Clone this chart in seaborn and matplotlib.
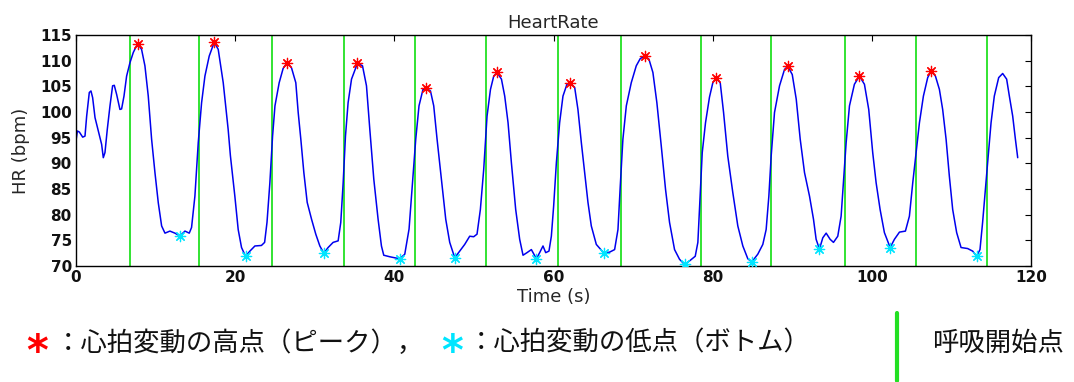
import numpy as np
import pandas as pd
import matplotlib
matplotlib.use("Agg")
import matplotlib.pyplot as plt
import seaborn as sns

# Heart-rate trace (time in s, HR in bpm)
time_s = [
    0.0, 0.17, 0.42, 0.84, 1.13, 1.34, 1.67, 1.88, 2.09, 2.39, 2.8, 3.22, 3.43, 3.64, 3.93,
    4.27, 4.6, 4.81, 5.11, 5.52, 5.73, 6.03, 6.36, 6.78, 7.2, 7.74, 8.24, 8.66, 9.08, 9.5,
    9.92, 10.34, 10.76, 11.18, 11.8, 12.43, 13.06, 13.69, 14.23, 14.52, 14.94, 15.36, 15.78,
    16.2, 16.74, 17.37, 17.87, 18.5, 19.12, 19.4, 19.96, 20.38, 20.8, 21.3, 21.85, 22.48,
    23.3, 23.7, 24.0, 24.36, 24.7, 25.0, 25.53, 26.03, 26.53, 27.08, 27.62, 27.92, 28.25,
    28.63, 29.05, 29.6, 30.13, 30.64, 31.14, 31.68, 32.31, 32.94, 33.27, 33.57, 33.86,
    34.19, 34.62, 35.37, 36.0, 36.5, 36.92, 37.42, 37.96, 38.38, 38.67, 39.43, 40.06,
    40.68, 41.31, 41.85, 42.28, 42.69, 43.1, 43.6, 44.03, 44.54, 44.95, 45.37, 45.92,
    46.46, 46.96, 47.59, 48.22, 48.84, 49.47, 49.97, 50.39, 50.81, 51.23, 51.65, 52.08,
    52.49, 52.9, 53.46, 53.87, 54.29, 54.71, 55.25, 55.75, 56.17, 56.67, 57.22, 57.85,
    58.26, 58.68, 59.02, 59.43, 59.73, 60.02, 60.36, 60.77, 61.19, 61.69, 62.03, 62.66,
    63.07, 63.5, 63.91, 64.33, 64.75, 65.38, 66.34, 67.05, 67.68, 68.1, 68.39, 68.72,
    69.15, 69.77, 70.4, 70.9, 71.45, 71.99, 72.49, 72.99, 73.54, 74.08, 74.58, 75.21,
    75.84, 76.47, 77.1, 77.81, 78.14, 78.43, 78.69, 79.1, 79.6, 80.02, 80.44, 80.95,
    81.37, 81.9, 82.53, 83.16, 83.79, 84.42, 84.92, 85.67, 86.3, 86.72, 87.06, 87.35,
    87.77, 88.4, 89.03, 89.44, 90.0, 90.5, 91.0, 91.54, 92.17, 92.67, 93.0, 93.42, 93.84,
    94.26, 94.76, 95.18, 95.72, 96.14, 96.43, 96.77, 97.19, 97.81, 98.44, 99.07, 99.61,
    100.11, 100.54, 101.04, 101.58, 102.3, 102.84, 103.47, 104.22, 104.72, 105.14,
    105.56, 105.98, 106.48, 107.02, 107.45, 107.99, 108.49, 108.9, 109.33, 109.74,
    110.16, 110.66, 111.21, 112.04, 112.67, 113.17, 113.59, 113.92, 114.26, 114.55,
    114.98, 115.39, 115.94, 116.44, 116.94, 117.28, 117.7, 118.04, 118.33,
]
hr_bpm = [
    94.4, 96.3, 96.1, 95.1, 95.3, 99.2, 103.8, 104.1, 102.8, 98.9, 96.3, 93.7, 91.1, 92.1, 96.6,
    101.2, 105.1, 105.2, 103.4, 100.5, 100.6, 103.1, 107.0, 109.6, 111.6, 113.3, 112.2, 109.0, 103.1, 94.7,
    88.2, 82.3, 77.8, 76.4, 76.8, 76.4, 75.85, 76.8, 76.4, 77.5, 83.6, 94.0, 101.8,
    107.0, 110.9, 113.6, 112.2, 105.7, 96.6, 91.5, 83.6, 77.1, 73.6, 71.9, 72.9, 73.9,
    74.0, 74.6, 78.5, 86.2, 95.3, 101.2, 105.7, 108.5, 109.6, 108.6, 105.7, 99.9, 94.7,
    88.2, 82.4, 79.1, 76.2, 73.9, 72.5, 73.6, 74.6, 74.9, 78.5, 86.2, 95.3,
    101.8, 106.4, 109.5, 109.0, 105.1, 96.6, 86.9, 79.1, 73.9, 72.1, 71.8, 71.6,
    71.4, 72.3, 77.2, 86.2, 94.7, 101.2, 104.4, 104.6, 104.1, 101.2, 94.7, 86.9,
    79.1, 74.6, 71.6, 72.9, 74.2, 75.8, 75.7, 76.2, 81.0, 88.8, 99.2, 104.4,
    107.0, 107.7, 106.4, 103.1, 97.9, 90.1, 81.0, 75.2, 72.1, 72.6, 73.2, 71.4,
    72.6, 73.9, 72.6, 72.9, 75.8, 81.7, 90.1, 97.9, 103.1, 105.4, 105.7, 104.8,
    100.5, 94.0, 88.2, 82.4, 77.8, 74.2, 72.5, 72.7, 73.2, 77.1, 85.6, 94.7,
    101.2, 105.7, 109.0, 110.4, 110.9, 110.3, 107.7, 101.8, 93.4, 84.9, 78.5, 73.2,
    71.3, 70.3, 71.0, 71.9, 74.6, 83.6, 92.1, 97.9, 102.9, 105.7, 106.6, 105.7,
    99.9, 91.4, 84.3, 77.8, 73.9, 71.4, 70.8, 72.3, 74.2, 77.1, 83.6, 91.4,
    99.9, 105.1, 108.3, 108.9, 107.3, 102.5, 94.7, 88.2, 83.6, 79.1, 75.2, 73.3, 75.5,
    76.4, 75.2, 74.6, 75.8, 79.7, 86.2, 94.0, 101.2, 105.4, 107.0, 105.4, 100.5,
    92.1, 86.2, 81.0, 76.5, 73.6, 75.2, 76.6, 76.8, 79.7, 86.2,
    92.1, 97.9, 103.1, 106.7, 108.0, 107.0, 104.4, 100.5, 94.7, 87.5,
    81.0, 76.5, 73.6, 73.4, 72.9, 71.9, 73.2, 78.5, 84.9, 90.1,
    97.9, 103.1, 106.7, 107.5, 106.4, 103.1, 99.2, 94.7, 91.1,
]

# Detected HR peaks and troughs
peak_t = [7.74, 17.37, 26.53, 35.37, 44.03, 52.9, 62.03, 71.45, 80.44, 89.44, 98.44, 107.45]
peak_hr = [113.3, 113.6, 109.6, 109.5, 104.6, 107.7, 105.7, 110.9, 106.6, 108.9, 107.0, 108.0]
bottom_t = [13.06, 21.3, 31.14, 40.68, 47.59, 57.85, 66.34, 76.47, 84.92, 93.42, 102.3, 113.17]
bottom_hr = [75.85, 71.9, 72.5, 71.4, 71.6, 71.4, 72.5, 70.3, 70.8, 73.3, 73.6, 71.9]

# Start of each breath
breath_start_t = [6.78, 15.48, 24.61, 33.65, 42.57, 51.48, 60.56, 68.52, 78.52, 87.27,
                  96.69, 105.56, 114.48]

x_ticks = [0, 20, 40, 60, 80, 100, 120]
y_ticks = [70, 75, 80, 85, 90, 95, 100, 105, 110, 115]

sns.set_theme(style="white")
plt.rcParams["font.family"] = ["DejaVu Sans"]
plt.rcParams["axes.edgecolor"] = "black"
plt.rcParams["axes.linewidth"] = 1.0

GREEN = "#22e022"
JP = ["Noto Sans CJK JP", "DejaVu Sans"]

trace = pd.DataFrame({"t": time_s, "hr": hr_bpm})
peaks = pd.DataFrame({"t": peak_t, "hr": peak_hr})
bottoms = pd.DataFrame({"t": bottom_t, "hr": bottom_hr})

fig = plt.figure(figsize=(10.74, 3.82), dpi=100)
ax = fig.add_axes([76 / 1074, 1 - 266 / 382, (1031 - 76) / 1074, (266 - 35) / 382])

for bt in breath_start_t:
    ax.axvline(bt, color=GREEN, lw=1.3, zorder=1)

sns.lineplot(data=trace, x="t", y="hr", ax=ax, color="#0000ee", lw=1.1, zorder=2)

asterisk = (8, 2, 0)
sns.scatterplot(data=peaks, x="t", y="hr", ax=ax, marker=asterisk, s=55,
                color="red", edgecolor="red", linewidth=0.9, zorder=3)
sns.scatterplot(data=bottoms, x="t", y="hr", ax=ax, marker=asterisk, s=55,
                color="#00e5ff", edgecolor="#00e5ff", linewidth=0.9, zorder=3)

ax.set_xlim(0, 120)
ax.set_ylim(70, 115)
ax.set_xticks(x_ticks)
ax.set_yticks(y_ticks)
ax.tick_params(direction="in", top=True, right=True, length=4, width=0.8,
               labelsize=11, colors="black", pad=3)
for lab in ax.get_xticklabels() + ax.get_yticklabels():
    lab.set_fontweight("bold")
    lab.set_color("#111111")
ax.set_title("HeartRate", fontsize=13, pad=5)
ax.set_xlabel("Time (s)", fontsize=13, labelpad=2)
ax.set_ylabel("HR (bpm)", fontsize=13, labelpad=7)
for sp in ax.spines.values():
    sp.set_visible(True)
    sp.set_color("black")

# Key beneath the plot
ky = 1 - 343 / 382
fig.text(37 / 1074, ky - 0.025, "*", color="red", fontsize=30, fontweight="bold",
         ha="center", va="center")
fig.text(55 / 1074, ky, "：心拍変動の高点（ピーク），", family=JP, fontsize=19,
         ha="left", va="center", color="#111111")
fig.text(452 / 1074, ky - 0.025, "*", color="#00e5ff", fontsize=30, fontweight="bold",
         ha="center", va="center")
fig.text(468 / 1074, ky, "：心拍変動の低点（ボトム）", family=JP, fontsize=19,
         ha="left", va="center", color="#111111")
fig.add_artist(plt.Line2D([897 / 1074, 897 / 1074], [1 - 381 / 382, 1 - 313 / 382],
                          color=GREEN, lw=3, transform=fig.transFigure))
fig.text(932 / 1074, ky, "呼吸開始点", family=JP, fontsize=19,
         ha="left", va="center", color="#111111")

fig.savefig("out.png", dpi=100)
